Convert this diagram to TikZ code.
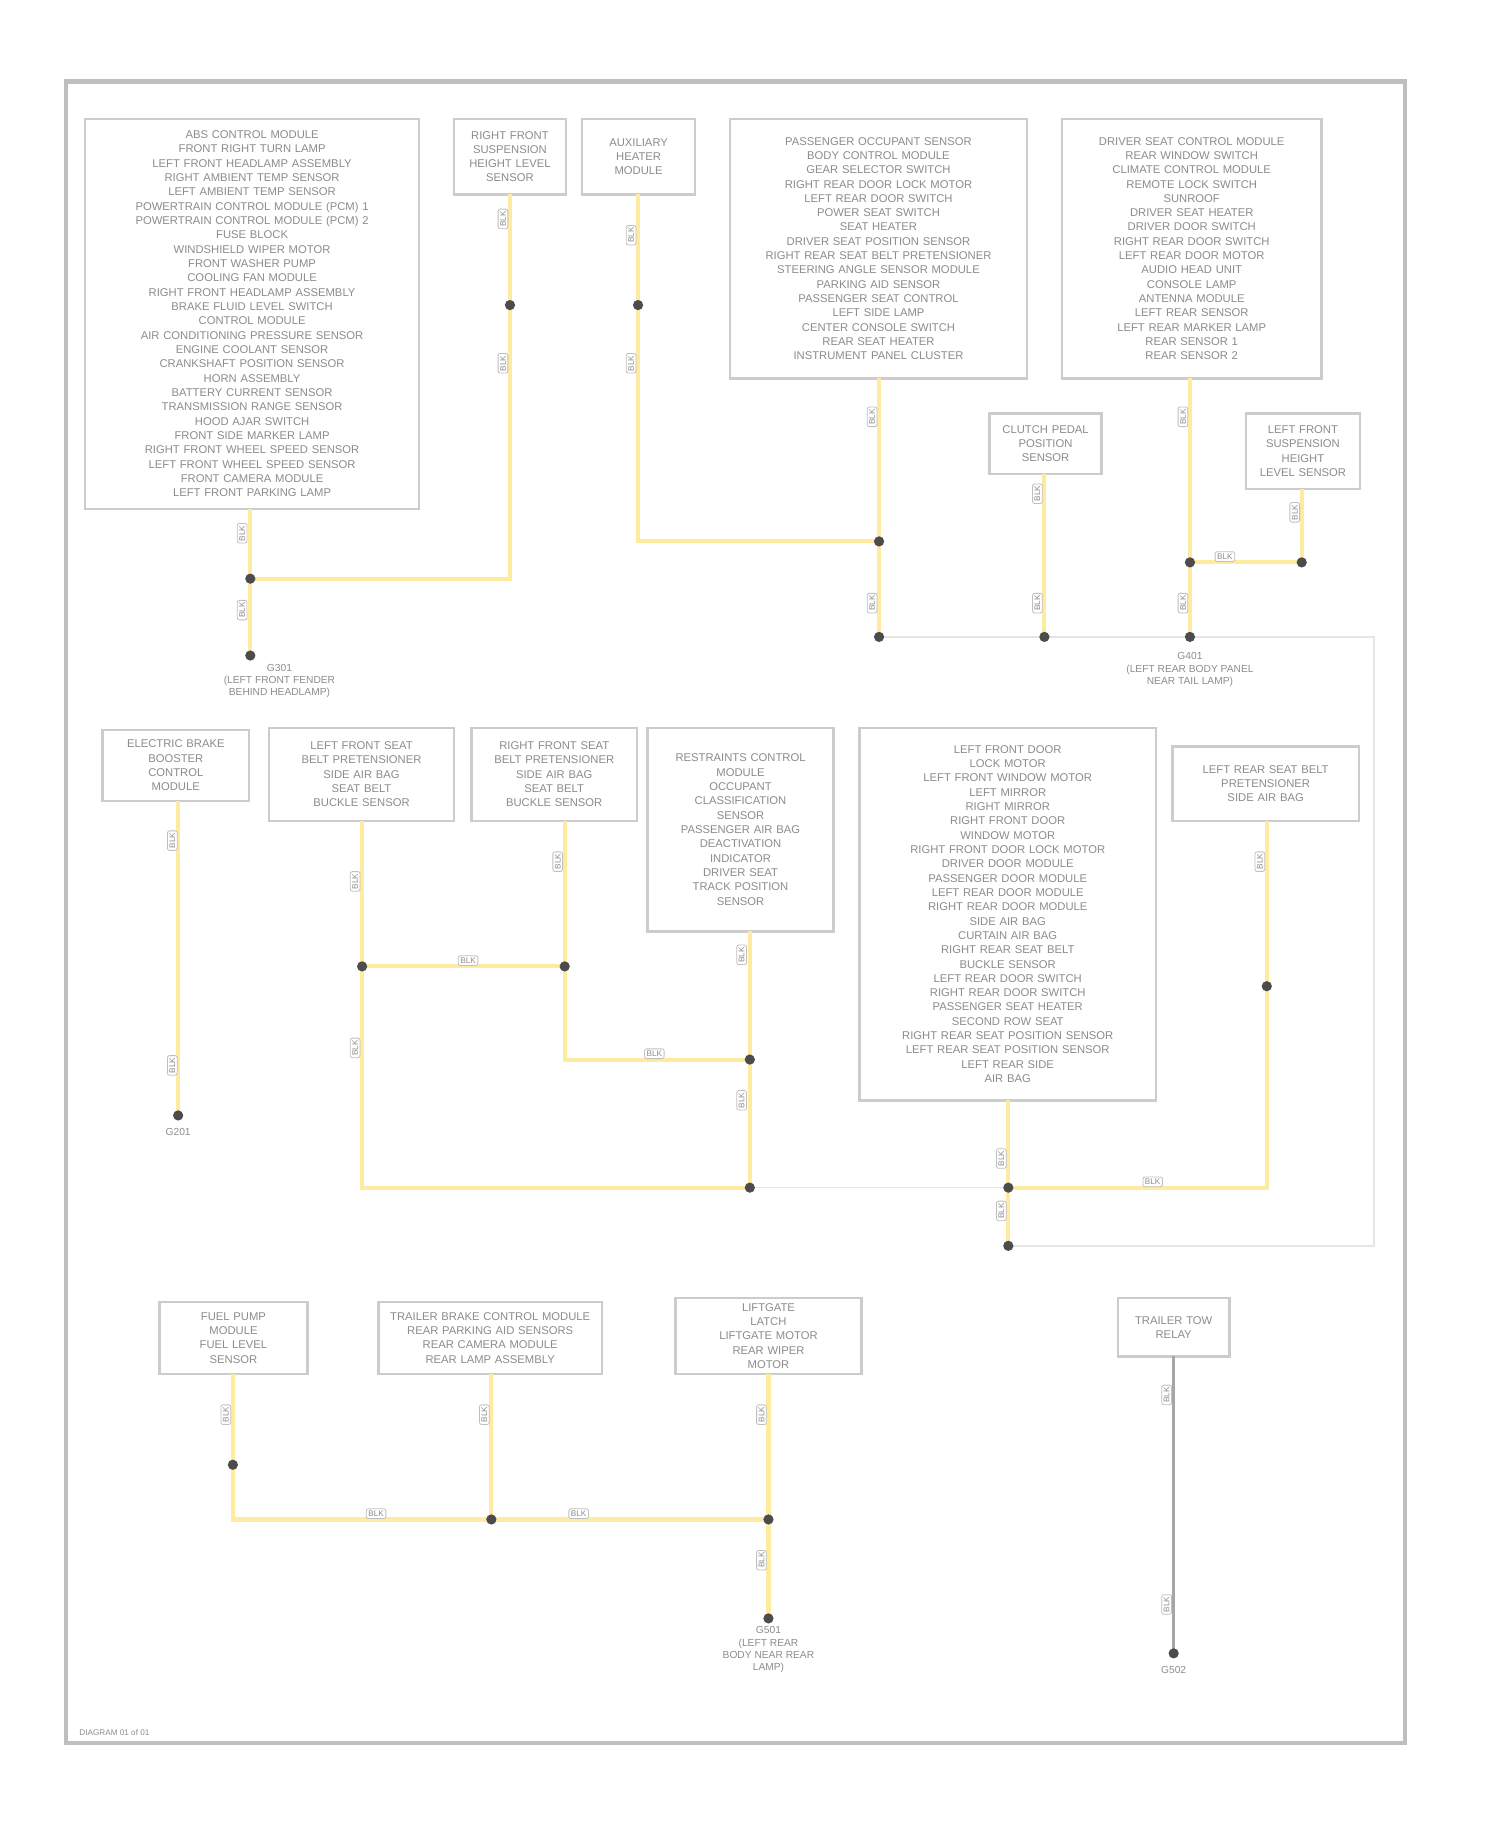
\documentclass[tikz,border=0pt]{standalone}
\usepackage{fontspec}
\setmainfont{Liberation Sans}
\begin{document}
\begin{tikzpicture}[x=0.02cm,y=-0.02cm,
  bx/.style={draw=black!20,line width=1.2pt,fill=white,align=center,text=black!45,font=\fontsize{5.5}{7}\selectfont,inner sep=2pt},
  wire/.style={draw=yellow!60!orange!35!white,line width=2pt},
  gwire/.style={draw=black!35,line width=1.5pt},
  faint/.style={draw=black!10,line width=0.8pt},
  dot/.style={circle,fill=black!70,inner sep=0pt,minimum size=5pt},
  wl/.style={font=\fontsize{4}{4}\selectfont,text=black!45,fill=white,draw=black!25,inner sep=1pt,rounded corners=1pt},
  gl/.style={font=\fontsize{5}{6}\selectfont,text=black!45,align=center}]
\useasboundingbox (0,0) rectangle (1288,1570);
\draw[black!25,line width=2pt] (57,70) rectangle (1207,1497);
\node[font=\fontsize{4}{4}\selectfont,text=black!45,anchor=west] (ft) at (62,1488) {DIAGRAM 01 of 01};

% boxes
\node[bx,minimum width=5.74cm,minimum height=6.7cm,text width=5.4cm] (A) at (216.5,269.5) {ABS CONTROL MODULE\\FRONT RIGHT TURN LAMP\\LEFT FRONT HEADLAMP ASSEMBLY\\RIGHT AMBIENT TEMP SENSOR\\LEFT AMBIENT TEMP SENSOR\\POWERTRAIN CONTROL MODULE (PCM) 1\\POWERTRAIN CONTROL MODULE (PCM) 2\\FUSE BLOCK\\WINDSHIELD WIPER MOTOR\\FRONT WASHER PUMP\\COOLING FAN MODULE\\RIGHT FRONT HEADLAMP ASSEMBLY\\BRAKE FLUID LEVEL SWITCH\\CONTROL MODULE\\AIR CONDITIONING PRESSURE SENSOR\\ENGINE COOLANT SENSOR\\CRANKSHAFT POSITION SENSOR\\HORN ASSEMBLY\\BATTERY CURRENT SENSOR\\TRANSMISSION RANGE SENSOR\\HOOD AJAR SWITCH\\FRONT SIDE MARKER LAMP\\RIGHT FRONT WHEEL SPEED SENSOR\\LEFT FRONT WHEEL SPEED SENSOR\\FRONT CAMERA MODULE\\LEFT FRONT PARKING LAMP};
\node[bx,minimum width=1.92cm,minimum height=1.3cm,text width=1.7cm] (B) at (438,134.5) {RIGHT FRONT\\SUSPENSION\\HEIGHT LEVEL\\SENSOR};
\node[bx,minimum width=1.94cm,minimum height=1.3cm,text width=1.7cm] (C) at (548.5,134.5) {AUXILIARY\\HEATER\\MODULE};
\node[bx,minimum width=5.1cm,minimum height=4.46cm,text width=4.8cm] (D) at (754.5,213.5) {PASSENGER OCCUPANT SENSOR\\BODY CONTROL MODULE\\GEAR SELECTOR SWITCH\\RIGHT REAR DOOR LOCK MOTOR\\LEFT REAR DOOR SWITCH\\POWER SEAT SWITCH\\SEAT HEATER\\DRIVER SEAT POSITION SENSOR\\RIGHT REAR SEAT BELT PRETENSIONER\\STEERING ANGLE SENSOR MODULE\\PARKING AID SENSOR\\PASSENGER SEAT CONTROL\\LEFT SIDE LAMP\\CENTER CONSOLE SWITCH\\REAR SEAT HEATER\\INSTRUMENT PANEL CLUSTER};
\node[bx,minimum width=4.46cm,minimum height=4.46cm,text width=4.2cm] (E) at (1023.5,213.5) {DRIVER SEAT CONTROL MODULE\\REAR WINDOW SWITCH\\CLIMATE CONTROL MODULE\\REMOTE LOCK SWITCH\\SUNROOF\\DRIVER SEAT HEATER\\DRIVER DOOR SWITCH\\RIGHT REAR DOOR SWITCH\\LEFT REAR DOOR MOTOR\\AUDIO HEAD UNIT\\CONSOLE LAMP\\ANTENNA MODULE\\LEFT REAR SENSOR\\LEFT REAR MARKER LAMP\\REAR SENSOR 1\\REAR SENSOR 2};
\node[bx,minimum width=1.92cm,minimum height=1.04cm,text width=1.7cm] (F) at (898,381) {CLUTCH PEDAL\\POSITION\\SENSOR};
\node[bx,minimum width=1.96cm,minimum height=1.3cm,text width=1.7cm] (G) at (1119,387.5) {LEFT FRONT\\SUSPENSION\\HEIGHT\\LEVEL SENSOR};
\node[bx,minimum width=2.52cm,minimum height=1.22cm,text width=2.3cm] (H) at (151,657.5) {ELECTRIC BRAKE\\BOOSTER\\CONTROL\\MODULE};
\node[bx,minimum width=3.18cm,minimum height=1.6cm,text width=2.9cm] (I) at (310.5,665) {LEFT FRONT SEAT\\BELT PRETENSIONER\\SIDE AIR BAG\\SEAT BELT\\BUCKLE SENSOR};
\node[bx,minimum width=2.84cm,minimum height=1.6cm,text width=2.6cm] (J) at (476,665) {RIGHT FRONT SEAT\\BELT PRETENSIONER\\SIDE AIR BAG\\SEAT BELT\\BUCKLE SENSOR};
\node[bx,minimum width=3.2cm,minimum height=3.5cm,text width=2.9cm] (K) at (636,712.5) {RESTRAINTS CONTROL\\MODULE\\OCCUPANT\\CLASSIFICATION\\SENSOR\\PASSENGER AIR BAG\\DEACTIVATION\\INDICATOR\\DRIVER SEAT\\TRACK POSITION\\SENSOR};
\node[bx,minimum width=5.1cm,minimum height=6.4cm,text width=4.8cm] (L) at (865.5,785) {LEFT FRONT DOOR\\LOCK MOTOR\\LEFT FRONT WINDOW MOTOR\\LEFT MIRROR\\RIGHT MIRROR\\RIGHT FRONT DOOR\\WINDOW MOTOR\\RIGHT FRONT DOOR LOCK MOTOR\\DRIVER DOOR MODULE\\PASSENGER DOOR MODULE\\LEFT REAR DOOR MODULE\\RIGHT REAR DOOR MODULE\\SIDE AIR BAG\\CURTAIN AIR BAG\\RIGHT REAR SEAT BELT\\BUCKLE SENSOR\\LEFT REAR DOOR SWITCH\\RIGHT REAR DOOR SWITCH\\PASSENGER SEAT HEATER\\SECOND ROW SEAT\\RIGHT REAR SEAT POSITION SENSOR\\LEFT REAR SEAT POSITION SENSOR\\LEFT REAR SIDE\\AIR BAG};
\node[bx,minimum width=3.2cm,minimum height=1.28cm,text width=2.9cm] (M) at (1087,673) {LEFT REAR SEAT BELT\\PRETENSIONER\\SIDE AIR BAG};
\node[bx,minimum width=2.54cm,minimum height=1.24cm,text width=2.3cm] (N) at (200.5,1149) {FUEL PUMP\\MODULE\\FUEL LEVEL\\SENSOR};
\node[bx,minimum width=3.84cm,minimum height=1.24cm,text width=3.6cm] (O) at (421,1149) {TRAILER BRAKE CONTROL MODULE\\REAR PARKING AID SENSORS\\REAR CAMERA MODULE\\REAR LAMP ASSEMBLY};
\node[bx,minimum width=3.2cm,minimum height=1.3cm,text width=2.9cm] (P) at (660,1147.5) {LIFTGATE\\LATCH\\LIFTGATE MOTOR\\REAR WIPER\\MOTOR};
\node[bx,minimum width=1.92cm,minimum height=1.0cm,text width=1.7cm] (Q) at (1008,1140) {TRAILER TOW\\RELAY};

% junction coordinates
\coordinate (jA) at (215,497); \coordinate (gA) at (215,563);
\coordinate (jB) at (438,497); \coordinate (sB) at (438,262);
\coordinate (sC) at (548,262); \coordinate (jC) at (548,465);
\coordinate (jD) at (755,465); \coordinate (gD) at (755,547);
\coordinate (gF) at (897,547);
\coordinate (jE) at (1022,483); \coordinate (gE) at (1022,547); \coordinate (jG) at (1118,483);
\coordinate (gH) at (153,958);
\coordinate (jI) at (311,830); \coordinate (cI) at (311,1020);
\coordinate (jJ) at (485,830); \coordinate (cJ) at (485,910);
\coordinate (jK) at (644,910); \coordinate (cK) at (644,1020);
\coordinate (jL) at (866,1020); \coordinate (gL) at (866,1070);
\coordinate (sM) at (1088,847); \coordinate (cM) at (1088,1020);
\coordinate (cN) at (200,1305); \coordinate (sN) at (200,1258);
\coordinate (jO) at (422,1305); \coordinate (jP) at (660,1305); \coordinate (gP) at (660,1390);
\coordinate (gQ) at (1008,1420);

% faint ground outline
\draw[faint] (gD) -- (1180,547) -- (1180,1070) -- (gL);
\draw[faint] (cK) -- (jL);

% wires
\draw[wire] (215,437) -- (jA) -- (gA);
\draw[wire] (jA) -- (jB) -- (438,167);
\draw[wire] (548,167) -- (jC) -- (jD);
\draw[wire] (755,325) -- (gD);
\draw[wire] (897,407) -- (gF);
\draw[wire] (1022,325) -- (gE);
\draw[wire] (jE) -- (jG) -- (1118,420);
\draw[wire] (153,688) -- (gH);
\draw[wire] (311,705) -- (cI) -- (cK);
\draw[wire] (jI) -- (jJ);
\draw[wire] (485,705) -- (cJ) -- (jK);
\draw[wire] (644,800) -- (cK);
\draw[wire] (866,945) -- (gL);
\draw[wire] (jL) -- (cM) -- (1088,705);
\draw[wire] (200,1180) -- (cN) -- (jP);
\draw[wire] (422,1180) -- (jO);
\draw[wire] (660,1180) -- (gP);
\draw[gwire] (1008,1165) -- (gQ);

% dots
\foreach \p in {gA,jA,sB,sC,jD,gD,gF,gE,jE,jG,gH,jI,jJ,jK,cK,jL,gL,sM,sN,jO,jP,gP,gQ}
  \node[dot] at (\p) {};

% wire labels
\foreach \x/\y in {208/458,208/524,432/188,432/312,542/202,542/312,749/358,749/518,891/424,891/518,1016/358,1016/518,1112/440,148/722,148/915,305/757,305/900,479/740,637/820,637/945,860/995,860/1040,1082/740,194/1215,416/1215,654/1215,654/1340,1002/1198,1002/1378}
  \node[wl,rotate=90] at (\x,\y) {BLK};
\foreach \x/\y in {1052/478,402/825,562/905,990/1015,323/1300,497/1300}
  \node[wl] at (\x,\y) {BLK};

% ground labels
\node[gl] (tA) at (240,585) {G301\\(LEFT FRONT FENDER\\BEHIND HEADLAMP)};
\node[gl] (tE) at (1022,575) {G401\\(LEFT REAR BODY PANEL\\NEAR TAIL LAMP)};
\node[gl] (tH) at (153,972) {G201};
\node[gl] (tP) at (660,1417) {G501\\(LEFT REAR\\BODY NEAR REAR\\LAMP)};
\node[gl] (tQ) at (1008,1434) {G502};
\end{tikzpicture}
\end{document}
